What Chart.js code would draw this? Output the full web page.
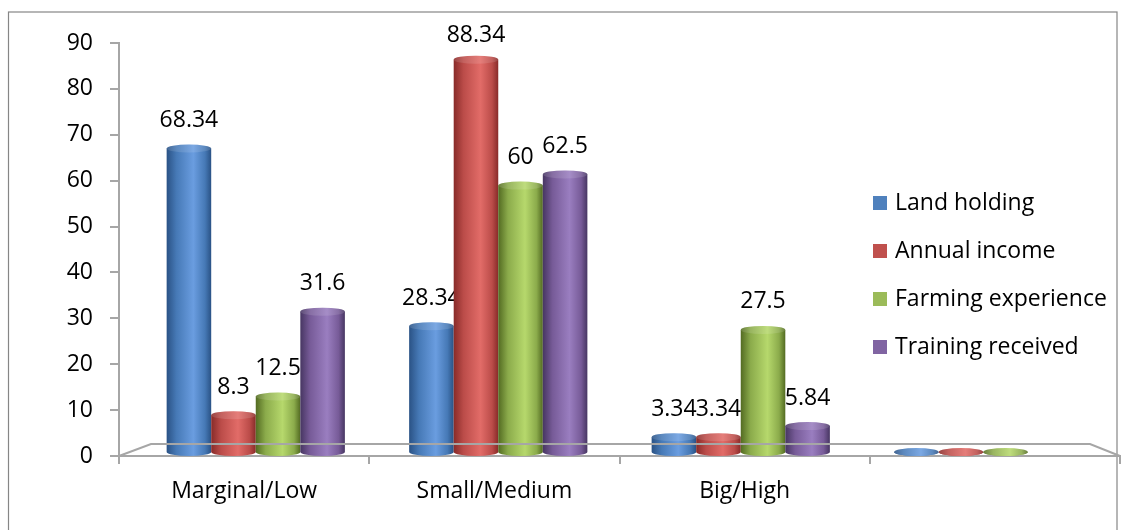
<!DOCTYPE html>
<html>
<head>
<meta charset="utf-8">
<title>Chart</title>
<script src="https://cdn.jsdelivr.net/npm/chart.js@4.4.1/dist/chart.umd.min.js"></script>
<style>
  html, body { margin: 0; padding: 0; background: #fff; }
  #wrap { width: 1125px; height: 530px; }
</style>
</head>
<body>
<div id="wrap"><canvas id="chart" width="1125" height="530"></canvas></div>
<script>
// Data
const categories = ['Marginal/Low', 'Small/Medium', 'Big/High', ''];
const seriesNames = ['Land holding', 'Annual income', 'Farming experience', 'Training received'];
const landHolding       = [68.34, 28.34, 3.34, 0];
const annualIncome      = [8.3, 88.34, 3.34, 0];
const farmingExperience = [12.5, 60, 27.5, 0];
const trainingReceived  = [31.6, 62.5, 5.84, null];
const yTicks = [0, 10, 20, 30, 40, 50, 60, 70, 80, 90];

// Colours (legend colour, then dark / mid / light for the cylinder shading)
const palette = [
  { solid: '#4f81bd', dark: '#2a5285', mid: '#4679b6', light: '#6a9de0' },
  { solid: '#c0504d', dark: '#882b29', mid: '#bb4c49', light: '#e26c68' },
  { solid: '#9bbb59', dark: '#536b22', mid: '#8bab4b', light: '#b6d86c' },
  { solid: '#8064a2', dark: '#473662', mid: '#775b98', light: '#9a7ec0' }
];

const FONT = '"Open Sans", "Liberation Sans", sans-serif';
const FONT_SIZE = 23;
const AXIS_GREY = '#a6a6a6';
const PERSPECTIVE = 0.969;   // bars sit a little behind the front axis plane

const values = [landHolding, annualIncome, farmingExperience, trainingReceived];

// Outer frame + 3D floor
const framePlugin = {
  id: 'frame',
  beforeDraw(chart) {
    const ctx = chart.ctx;
    ctx.save();
    ctx.fillStyle = '#fff';
    ctx.fillRect(0, 0, chart.width, chart.height);
    ctx.strokeStyle = '#868686';
    ctx.lineWidth = 1.2;
    ctx.strokeRect(8.5, 12, 1108.5, 540);
    ctx.restore();
  },
  afterDraw(chart) {
    const a = chart.chartArea, ctx = chart.ctx;
    const back = a.bottom - 12;
    ctx.save();
    ctx.strokeStyle = AXIS_GREY;
    ctx.lineWidth = 2;
    ctx.beginPath();
    ctx.moveTo(a.left, a.bottom);
    ctx.lineTo(a.left + 32, back);
    ctx.lineTo(a.right - 30, back);
    ctx.lineTo(a.right, a.bottom);
    ctx.stroke();
    ctx.restore();
  }
};

// Cylinder bars drawn from the bar elements' own positions
const cylinderPlugin = {
  id: 'cylinders',
  afterDatasetsDraw(chart) {
    const ctx = chart.ctx;
    const a = chart.chartArea;
    const midX = (a.left + a.right) / 2;
    const mapX = x => midX + (x - midX) * PERSPECTIVE;

    chart.data.datasets.forEach((ds, i) => {
      const meta = chart.getDatasetMeta(i);
      const c = palette[i];
      meta.data.forEach((bar, j) => {
        const v = ds.data[j];
        if (v === null || v === undefined) return;
        const w = bar.width * PERSPECTIVE;
        const cx = mapX(bar.x);
        const x0 = cx - w / 2, x1 = cx + w / 2;
        const top = bar.y, bottom = bar.base;
        const ry = 4;

        const g = ctx.createLinearGradient(x0, 0, x1, 0);
        g.addColorStop(0, c.dark);
        g.addColorStop(0.22, c.mid);
        g.addColorStop(0.6, c.light);
        g.addColorStop(0.86, c.mid);
        g.addColorStop(1, c.dark);

        ctx.save();
        ctx.fillStyle = g;
        ctx.beginPath();
        ctx.moveTo(x0, top);
        ctx.lineTo(x0, bottom);
        ctx.ellipse(cx, bottom, w / 2, ry, 0, Math.PI, 0, true);
        ctx.lineTo(x1, top);
        ctx.closePath();
        ctx.fill();

        // top cap
        ctx.beginPath();
        ctx.ellipse(cx, top, w / 2, ry, 0, 0, Math.PI * 2);
        ctx.fill();
        ctx.fillStyle = 'rgba(255,255,255,0.12)';
        ctx.fill();
        ctx.restore();

        // value label
        if (v > 0) {
          const ly = Math.max(top - ry - 24, a.top - 8);
          ctx.save();
          ctx.font = FONT_SIZE + 'px ' + FONT;
          ctx.fillStyle = '#000';
          ctx.textAlign = 'center';
          ctx.textBaseline = 'middle';
          ctx.fillText(String(v), cx, ly);
          ctx.restore();
        }
      });
    });
  }
};

// Legend sitting inside the plot on the right
const legendPlugin = {
  id: 'sideLegend',
  afterDraw(chart) {
    const ctx = chart.ctx;
    const a = chart.chartArea;
    const x = a.right - 247, y0 = 203, step = 48;
    ctx.save();
    ctx.font = FONT_SIZE + 'px ' + FONT;
    ctx.textBaseline = 'middle';
    ctx.textAlign = 'left';
    chart.data.datasets.forEach((ds, i) => {
      const y = y0 + i * step;
      ctx.fillStyle = palette[i].solid;
      ctx.fillRect(x, y - 7, 14, 14);
      ctx.fillStyle = '#000';
      ctx.fillText(ds.label, x + 22, y);
    });
    ctx.restore();
  }
};

const ctx = document.getElementById('chart').getContext('2d');
const chart = new Chart(ctx, {
  type: 'bar',
  data: {
    labels: categories,
    datasets: seriesNames.map((name, i) => ({
      label: name,
      data: values[i],
      yAxisID: 'yBars',
      backgroundColor: 'rgba(0,0,0,0)',
      borderWidth: 0,
      categoryPercentage: 0.735,
      barPercentage: 1
    }))
  },
  options: {
    responsive: false,
    animation: false,
    layout: { padding: { top: 43, right: 5, bottom: 0, left: 0 } },
    plugins: {
      legend: { display: false },
      tooltip: { enabled: false }
    },
    scales: {
      x: {
        offset: true,
        grid: { offset: true, drawOnChartArea: false, color: AXIS_GREY, lineWidth: 2, tickLength: 8 },
        border: { color: AXIS_GREY, width: 2 },
        ticks: { font: { family: FONT, size: FONT_SIZE }, color: '#000', padding: 14, maxRotation: 0 },
        afterFit: s => { s.height = 74; }
      },
      y: {
        min: 0,
        max: 90,
        afterBuildTicks: s => { s.ticks = yTicks.map(v => ({ value: v })); },
        grid: { drawOnChartArea: false, color: AXIS_GREY, lineWidth: 2, tickLength: 9 },
        border: { color: AXIS_GREY, width: 2 },
        ticks: { font: { family: FONT, size: FONT_SIZE }, color: '#000', padding: 17 },
        afterFit: s => { s.width = 119; }
      },
      // plane the bars stand on, a bit behind and above the front axis
      yBars: {
        display: false,
        min: -0.9,
        max: 92.1
      }
    }
  },
  plugins: [framePlugin, cylinderPlugin, legendPlugin]
});
</script>
</body>
</html>
